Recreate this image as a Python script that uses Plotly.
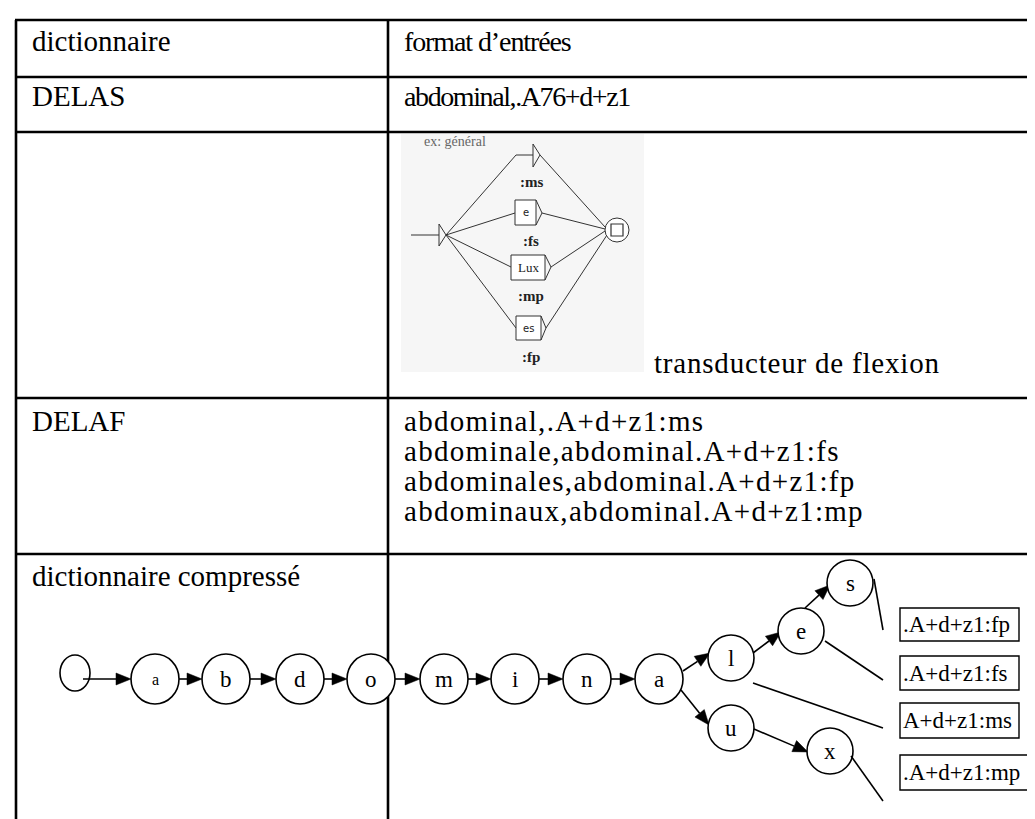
import math
import plotly.graph_objects as go

# ---------------- data (text content) ----------------
header_left = "dictionnaire"
header_right = "format d’entrées"
row_names = ["DELAS", "", "DELAF", "dictionnaire compressé"]
delas_entry = "abdominal,.A76+d+z1"
delaf_entries = [
    "abdominal,.A+d+z1:ms",
    "abdominale,abdominal.A+d+z1:fs",
    "abdominales,abdominal.A+d+z1:fp",
    "abdominaux,abdominal.A+d+z1:mp",
]
transducer_title = "ex: général"
transducer_inputs = ["", "e", "Lux", "es"]
transducer_outputs = [":ms", ":fs", ":mp", ":fp"]
transducer_caption = "transducteur de flexion"
chain_letters = ["a", "b", "d", "o", "m", "i", "n", "a"]
branch_letters = ["l", "e", "s", "u", "x"]
leaf_codes = [".A+d+z1:fp", ".A+d+z1:fs", "A+d+z1:ms", ".A+d+z1:mp"]

# ---------------- layout (positions, pixels) ----------------
W, H = 1035, 819
X_LEFT, X_MID, X_RIGHT = 8, 380, 1035
ROW_LINES = [12, 69, 124, 390, 546]
SERIF = "Liberation Serif"

shapes = []
anns = []


def line(x0, y0, x1, y1, w=1.0, color="black"):
    shapes.append(dict(type="line", xref="x", yref="y", x0=x0, y0=y0, x1=x1, y1=y1,
                       line=dict(color=color, width=w)))


def path(d, fill=None, color="black", w=1.0):
    shapes.append(dict(type="path", xref="x", yref="y", path=d,
                       fillcolor=fill if fill else "rgba(0,0,0,0)",
                       line=dict(color=color, width=w)))


def circle(cx, cy, rx, ry=None, w=1.6, color="black"):
    ry = rx if ry is None else ry
    shapes.append(dict(type="circle", xref="x", yref="y", x0=cx - rx, x1=cx + rx,
                       y0=cy - ry, y1=cy + ry, line=dict(color=color, width=w),
                       fillcolor="white"))


def rect(x0, y0, x1, y1, w=1.2, color="black", fill="white"):
    shapes.append(dict(type="rect", xref="x", yref="y", x0=x0, x1=x1, y0=y0, y1=y1,
                       line=dict(color=color, width=w), fillcolor=fill))


def text(x, y, s, size, xanchor="left", color="black", bold=False, family=SERIF, spacing=None):
    if bold:
        s = "<b>" + s + "</b>"
    if spacing is not None:
        s = f'<span style="letter-spacing:{spacing}px">' + s + "</span>"
    anns.append(dict(x=x, y=y, xref="x", yref="y", text=s, showarrow=False,
                     xanchor=xanchor, yanchor="middle",
                     font=dict(family=family, size=size, color=color)))


def arrow(x0, y0, x1, y1, L=15, Wd=12, w=1.6):
    dx, dy = x1 - x0, y1 - y0
    n = math.hypot(dx, dy)
    ux, uy = dx / n, dy / n
    bx, by = x1 - L * ux, y1 - L * uy
    px, py = -uy, ux
    line(x0, y0, bx, by, w)
    path(f"M {x1},{y1} L {bx + px * Wd / 2},{by + py * Wd / 2} "
         f"L {bx - px * Wd / 2},{by - py * Wd / 2} Z", fill="black", w=0.5)


# ---------------- table grid ----------------
TL = 2.6
for y in ROW_LINES:
    line(X_LEFT - 1, y, X_RIGHT, y, TL)
line(X_LEFT, ROW_LINES[0], X_LEFT, H + 2, TL)
line(X_MID, ROW_LINES[0], X_MID, H + 2, TL)

# ---------------- table texts ----------------
FS = 29
text(22, 33, header_left, FS)
text(394, 33, header_right, 28, spacing=-1.1)
text(22, 88, row_names[0], FS)
text(394, 88, delas_entry, 28, spacing=-1.4)
text(22, 413, row_names[2], FS)
delaf_y = [413, 443, 473, 503]
for s, y in zip(delaf_entries, delaf_y):
    text(394, y, s, 29, spacing=1.3)
text(22, 568, row_names[3], FS)

# ---------------- transducer picture ----------------
rect(393, 126, 636, 364, w=0, fill="#f6f6f6")
text(414, 133, transducer_title, 14, color="#666666")
GR = "#333333"
# initial state
line(403, 227, 431, 227, 1, GR)
path("M 431,216 L 431,238 L 438,227 Z", color=GR, w=1)
tip0 = (438, 227)
tboxes = [(508, 136, 525, 159), (507, 192, 528, 217), (503, 247, 537, 272), (508, 308, 533, 332)]
tin = [(508, 147), (507, 205), (503, 259), (508, 320)]
tout = [(532, 147), (534, 205), (543, 259), (538, 320)]
final_c = (609, 222)
ends = [(597, 219), (597, 221), (597, 223), (599, 227)]
for i, (b, pin, pout, e) in enumerate(zip(tboxes, tin, tout, ends)):
    x0, y0, x1, y1 = b
    line(tip0[0], tip0[1], pin[0], pin[1], 1, GR)
    if i == 0:
        line(508, 147, 525, 147, 1, GR)
        path(f"M 525,{y0} L 525,{y1} L {pout[0]},{pout[1]} Z", color=GR, w=1)
    else:
        rect(x0, y0, x1, y1, w=1, color=GR, fill="white")
        path(f"M {x1},{y0} L {pout[0]},{pout[1]} L {x1},{y1}", color=GR, w=1)
        lab = transducer_inputs[i]
        fam = SERIF if lab == "Lux" else "DejaVu Sans"
        text((x0 + x1) / 2, (y0 + y1) / 2, lab, 13 if lab == "Lux" else 10,
             xanchor="center", family=fam, color="#222")
    line(pout[0], pout[1], e[0], e[1], 1, GR)
out_y = [174, 233, 288, 349]
for s, y in zip(transducer_outputs, out_y):
    text(523, y, s, 15, xanchor="center", bold=True, color="#222")
circle(final_c[0], final_c[1], 12, w=1, color=GR)
rect(603, 216, 615, 228, w=1.2, color=GR, fill="white")
text(644, 355, transducer_caption, 29, spacing=0.8)

# ---------------- compressed dictionary automaton ----------------
R = 24
chain_x = [147, 218, 292, 363, 436, 507, 579, 651]
chain_y = 671
circle(67, 665, 15, 18)
arrow(75, 671, chain_x[0] - R, chain_y)
for i, (cx, ch) in enumerate(zip(chain_x, chain_letters)):
    shapes.append(dict(type="circle", xref="x", yref="y", x0=cx - R, x1=cx + R,
                       y0=chain_y - R - 1, y1=chain_y + R + 1,
                       line=dict(color="black", width=1.6), fillcolor="white"))
    text(cx, chain_y, ch, 16 if i == 0 else 23, xanchor="center")
    if i + 1 < len(chain_x):
        arrow(cx + R, chain_y, chain_x[i + 1] - R, chain_y)

RB = 23
branch_xy = [(723, 650), (793, 623), (842, 575), (723, 720), (822, 743)]
branch_edges = [((675, 663), (702, 645)), ((745, 645), (773, 624)),
                ((797, 600), (822, 577)), ((673, 682), (701, 717)),
                ((746, 721), (800, 744))]
for (p, q) in branch_edges:
    arrow(p[0], p[1], q[0], q[1])
for (cx, cy), ch in zip(branch_xy, branch_letters):
    circle(cx, cy, RB)
    text(cx, cy, ch, 23, xanchor="center")

leaf_boxes = [(892, 600, 1011, 633), (892, 648, 1011, 682), (892, 695, 1011, 730), (892, 747, 1027, 782)]
leaf_links = [((866, 571), (875, 622)), ((817, 633), (875, 672)),
              ((745, 675), (875, 720)), ((843, 748), (875, 793))]
for (p, q) in leaf_links:
    line(p[0], p[1], q[0], q[1], 1.6)
for (x0, y0, x1, y1), s in zip(leaf_boxes, leaf_codes):
    rect(x0, y0, x1, y1, w=1.4)
    text(x0 + 1, (y0 + y1) / 2, s, 23)

fig = go.Figure()
fig.update_layout(
    width=W, height=H,
    margin=dict(l=0, r=0, t=0, b=0),
    paper_bgcolor="white", plot_bgcolor="white",
    xaxis=dict(range=[0, W], visible=False, fixedrange=True),
    yaxis=dict(range=[H, 0], visible=False, fixedrange=True),
    shapes=shapes, annotations=anns, showlegend=False,
)
fig.write_html("out.html")
